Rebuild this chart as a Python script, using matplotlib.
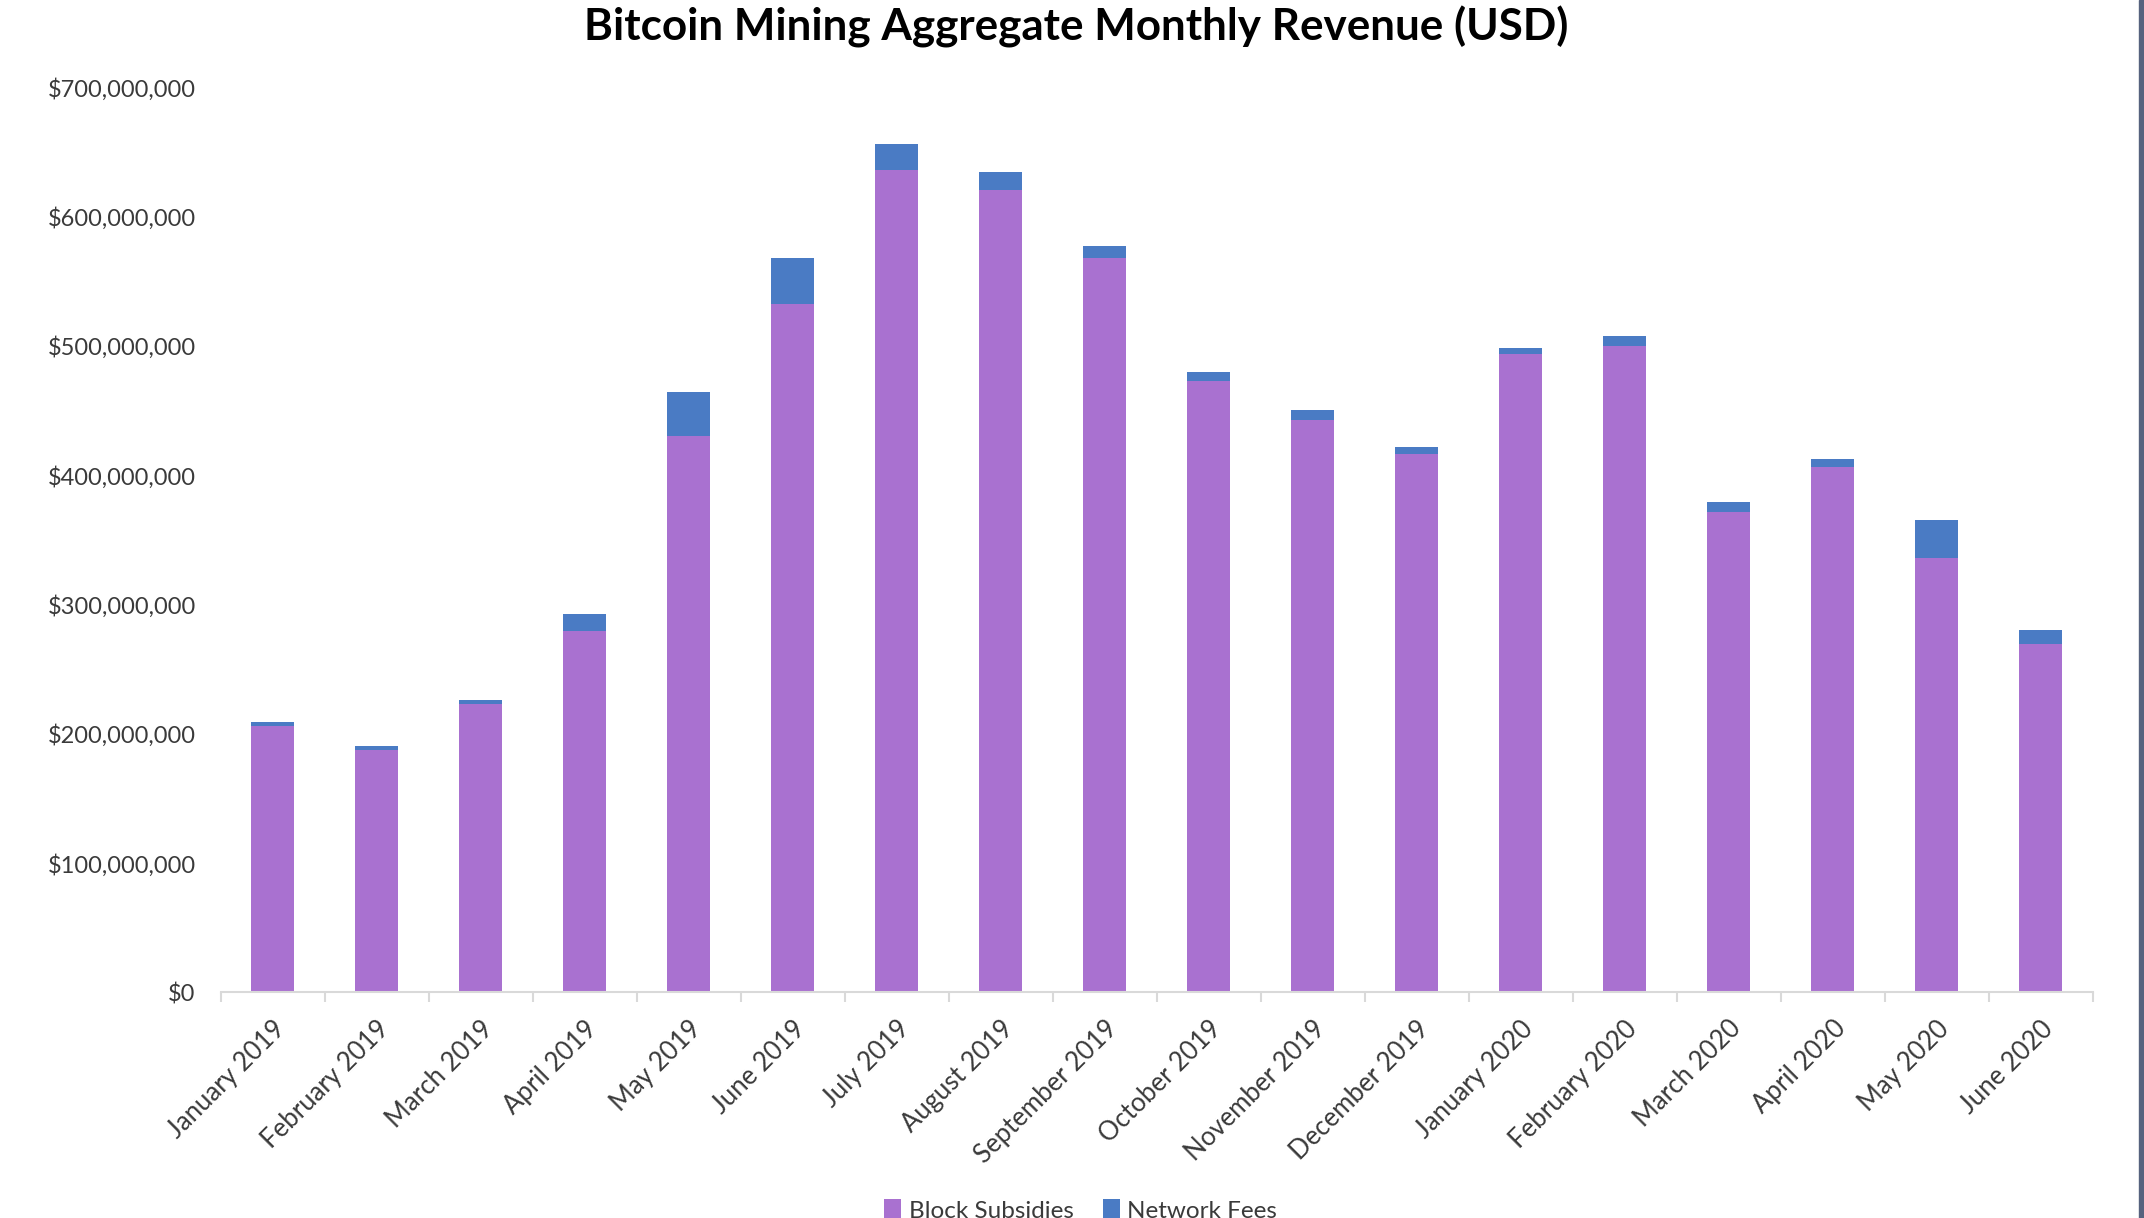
import numpy as np
import matplotlib.pyplot as plt
from matplotlib.ticker import FuncFormatter, FixedLocator
from matplotlib.patches import Rectangle

months = ["January 2019", "February 2019", "March 2019", "April 2019", "May 2019",
          "June 2019", "July 2019", "August 2019", "September 2019", "October 2019",
          "November 2019", "December 2019", "January 2020", "February 2020",
          "March 2020", "April 2020", "May 2020", "June 2020"]

# values in millions of USD
block_subsidies = [206.2, 187.8, 223.2, 279.2, 430.3, 532.7, 636.2, 620.6, 568.0,
                   472.7, 442.8, 416.8, 493.7, 500.0, 371.8, 406.0, 336.0, 269.6]
network_fees = [3.0, 2.6, 3.0, 13.7, 34.1, 35.3, 20.1, 13.8, 9.3,
                7.4, 7.6, 4.7, 4.4, 7.6, 7.6, 6.4, 29.5, 10.6]

plt.rcParams['font.family'] = ['Lato', 'DejaVu Sans']
txt = '#3a3a3a'

subs = np.array(block_subsidies) * 1e6
fees = np.array(network_fees) * 1e6
x = np.arange(len(months))

fig = plt.figure(figsize=(21.44, 12.18), dpi=100)
ax = fig.add_axes([0.1029, 0.1853, 0.8732, 0.7429])

ax.bar(x, subs, width=0.41, color='#a971d0', label='Block Subsidies', zorder=2)
ax.bar(x, fees, width=0.41, bottom=subs, color='#4a7bc4', label='Network Fees', zorder=2)

ax.set_xlim(-0.5, len(months) - 0.5)
ax.set_ylim(0, 700e6)
ax.set_yticks(np.arange(0, 701e6, 100e6))
ax.yaxis.set_major_formatter(FuncFormatter(lambda v, p: '${:,.0f}'.format(v)))

ax.set_xticks(x)
ax.set_xticklabels(months, rotation=45, ha='right', rotation_mode='anchor')
ax.xaxis.set_minor_locator(FixedLocator(np.arange(-0.5, len(months), 1)))
ax.tick_params(axis='x', which='major', length=0, pad=17, labelsize=18.5, labelcolor=txt)
ax.tick_params(axis='x', which='minor', length=7, width=1.5, color='#d9d9d9')
ax.tick_params(axis='y', length=0, pad=18, labelsize=17, labelcolor=txt)

for s in ['top', 'right', 'left']:
    ax.spines[s].set_visible(False)
ax.spines['bottom'].set_color('#d9d9d9')
ax.spines['bottom'].set_linewidth(1.5)

fig.suptitle('Bitcoin Mining Aggregate Monthly Revenue (USD)', x=0.502, y=0.995,
             fontsize=31.7, fontweight='bold', color='black')

fig.legend(loc='center', bbox_to_anchor=(0.504, 0.006), ncol=2, frameon=False,
           fontsize=17.5, handlelength=0.7, handleheight=0.9, handletextpad=0.3,
           columnspacing=1.2, labelcolor=txt)

# dark strip along the right edge of the screenshot
fig.patches.append(Rectangle((0.9977, 0), 0.0023, 1, transform=fig.transFigure,
                             color='#56627e', zorder=5))

fig.savefig('out.png', dpi=100)
